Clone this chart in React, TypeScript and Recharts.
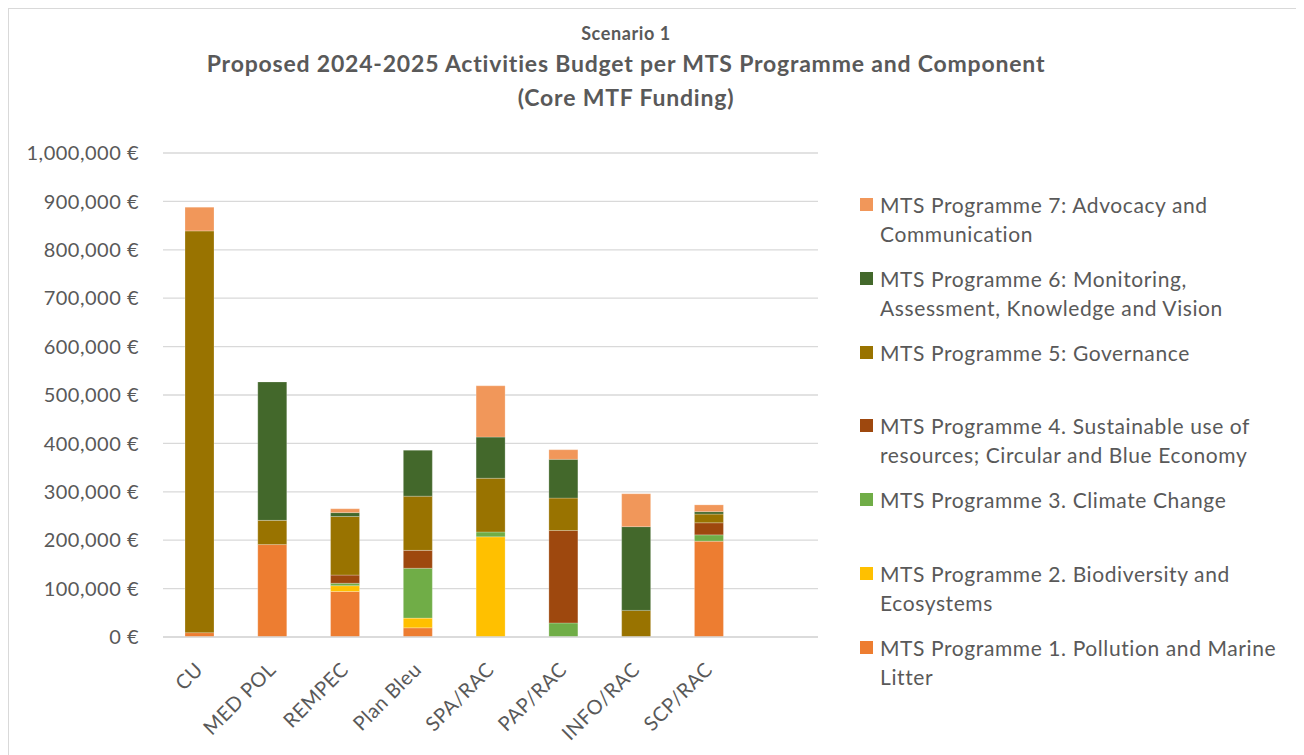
import { BarChart, Bar, XAxis, YAxis, CartesianGrid } from 'recharts';

const CATEGORIES = ['CU', 'MED POL', 'REMPEC', 'Plan Bleu', 'SPA/RAC', 'PAP/RAC', 'INFO/RAC', 'SCP/RAC', ''];

// values in €, stacked bottom (P1) to top (P7)
const P1 = [9000, 191000, 94000, 19000, 0, 0, 0, 198000, 0];
const P2 = [0, 0, 12000, 20000, 207000, 0, 0, 0, 0];
const P3 = [0, 0, 5000, 103000, 10000, 29000, 0, 13000, 0];
const P4 = [0, 0, 17000, 37000, 0, 191000, 0, 25000, 0];
const P5 = [830000, 50000, 121000, 112000, 111000, 67000, 55000, 18000, 0];
const P6 = [0, 286000, 8000, 95000, 85000, 80000, 173000, 5000, 0];
const P7 = [49000, 0, 8000, 0, 106000, 20000, 68000, 14000, 0];

const Y_TICKS = [0, 100000, 200000, 300000, 400000, 500000, 600000, 700000, 800000, 900000, 1000000];

const SERIES = [
  { key: 'p1', values: P1, color: '#ED7D31', name: 'MTS Programme 1. Pollution and Marine\nLitter' },
  { key: 'p2', values: P2, color: '#FFC000', name: 'MTS Programme 2. Biodiversity and\nEcosystems' },
  { key: 'p3', values: P3, color: '#70AD47', name: 'MTS Programme 3. Climate Change' },
  { key: 'p4', values: P4, color: '#9E480E', name: 'MTS Programme 4. Sustainable use of\nresources; Circular and Blue Economy' },
  { key: 'p5', values: P5, color: '#997300', name: 'MTS Programme 5: Governance' },
  { key: 'p6', values: P6, color: '#43682B', name: 'MTS Programme 6: Monitoring,\nAssessment, Knowledge and Vision' },
  { key: 'p7', values: P7, color: '#F1975A', name: 'MTS Programme 7: Advocacy and\nCommunication' },
];

const FONT = 'Lato, "Open Sans", sans-serif';
const TEXT = '#595959';

const data = CATEGORIES.map((name, i) => {
  const row: Record<string, string | number> = { name };
  SERIES.forEach((s) => {
    row[s.key] = s.values[i];
  });
  return row;
});

const fmt = (v: number) => `${v.toLocaleString('en-US')} €`;

function XTick({ x, y, payload }: any) {
  return (
    <g transform={`translate(${x - 5},${y + 16}) rotate(-45)`}>
      <text x={0} y={0} dy="0.7em" textAnchor="end" fill={TEXT} fontSize={20} letterSpacing={0.5} fontFamily={FONT}>
        {payload.value}
      </text>
    </g>
  );
}

export default function App() {
  const legendItems = [...SERIES].reverse();
  return (
    <div
      style={{
        position: 'relative',
        width: 1290,
        height: 760,
        border: '1px solid #d9d9d9',
        boxSizing: 'border-box',
        background: '#fff',
        fontFamily: FONT,
        color: TEXT,
      }}
    >
      <div style={{ position: 'absolute', left: 117, width: 1000, top: 11, textAlign: 'center', fontWeight: 700 }}>
        <div style={{ fontSize: 18, lineHeight: '26px', letterSpacing: 0.6 }}>Scenario 1</div>
        <div style={{ fontSize: 23, lineHeight: '34px', letterSpacing: 0.8 }}>
          Proposed 2024-2025 Activities Budget per MTS Programme and Component
        </div>
        <div style={{ fontSize: 23, lineHeight: '34px', letterSpacing: 0.8 }}>(Core MTF Funding)</div>
      </div>

      <div style={{ position: 'absolute', left: 0, top: 0 }}>
        <BarChart width={1288} height={740} data={data} margin={{ top: 144, right: 479, bottom: 12, left: 0 }} barSize={29}>
          <CartesianGrid vertical={false} stroke="#d9d9d9" strokeWidth={1.3} />
          <XAxis
            dataKey="name"
            interval={0}
            height={100}
            axisLine={{ stroke: '#d9d9d9', strokeWidth: 1.3 }}
            tickLine={false}
            tick={<XTick />}
          />
          <YAxis
            width={154}
            domain={[0, 1000000]}
            ticks={Y_TICKS}
            tickFormatter={fmt}
            axisLine={false}
            tickLine={false}
            tickSize={6}
            tickMargin={18}
            tick={{ fill: TEXT, fontSize: 20, fontFamily: FONT, letterSpacing: 0.5 }}
          />
          {SERIES.map((s) => (
            <Bar
              key={s.key}
              dataKey={s.key}
              stackId="a"
              fill={s.color}
              stroke="#ffffff"
              strokeOpacity={0.4}
              strokeWidth={0.6}
              isAnimationActive={false}
            />
          ))}
        </BarChart>
      </div>

      <div style={{ position: 'absolute', left: 851, top: 181 }}>
        {legendItems.map((s) => (
          <div key={s.key} style={{ position: 'relative', height: 73.8, paddingLeft: 20 }}>
            <span
              style={{ position: 'absolute', left: 0, top: 8, width: 13, height: 13, background: s.color }}
            />
            <div style={{ fontSize: 21, lineHeight: '29px', letterSpacing: 0.6, whiteSpace: 'pre-line' }}>{s.name}</div>
          </div>
        ))}
      </div>
    </div>
  );
}
